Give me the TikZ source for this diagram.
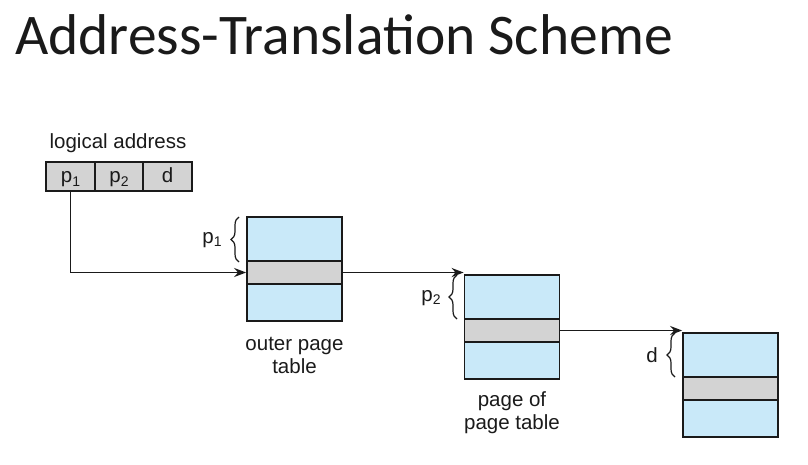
\documentclass[tikz,border=0pt]{standalone}
\usepackage{fontspec}
\setmainfont{Liberation Sans}
\newfontfamily\titlefont{Carlito}
\usetikzlibrary{arrows.meta,decorations.pathreplacing}
\definecolor{tableblue}{HTML}{C9E9F9}
\definecolor{entrygray}{HTML}{D3D3D3}
\definecolor{ink}{HTML}{1A1A1A}
\newcommand\lowidx[1]{\raisebox{-0.3ex}{\fontsize{14}{14}\selectfont #1}}
\tikzset{
  lbl/.style={font=\fontsize{20.5}{23}\selectfont, inner sep=0pt, align=center, text=ink},
  cell/.style={draw=ink, line width=1.7pt, fill=entrygray, minimum height=29pt, inner sep=0pt, lbl, text height=15pt, text depth=2pt},
  ptable/.style={draw=ink, line width=1.7pt, fill=tableblue, minimum width=95pt, minimum height=104pt, inner sep=0pt},
  pentry/.style={draw=ink, line width=1.7pt, fill=entrygray, minimum width=95pt, minimum height=23pt, inner sep=0pt},
  link/.style={draw=ink, line width=1.8pt, -{Stealth[length=12pt,width=9pt]}},
  lbrace/.style={draw=ink, line width=1.2pt, decorate, decoration={brace, amplitude=8pt}},
}
\begin{document}
\begin{tikzpicture}[x=1pt,y=-1pt]
\useasboundingbox (0,0) rectangle (808,465);

% title
\node[anchor=base west, inner sep=0pt, text=ink, font=\titlefont\fontsize{57.5}{60}\selectfont] (title) at (15,55) {Address-Translation Scheme};

% logical address
\node[cell, minimum width=49pt] (c1) at (70.5,176.5) {p\lowidx{1}};
\node[cell, minimum width=48pt] (c2) at (119,176.5) {p\lowidx{2}};
\node[cell, minimum width=49pt] (c3) at (167.5,176.5) {d};
\node[lbl] (la) at (118,143) {logical address};

% outer page table
\node[ptable] (t1) at (294.5,269) {};
\node[pentry] (b1) at (294.5,272.5) {};
\node[lbl] (t1lbl) at (294.5,355) {outer page\\table};

% page of page table
\node[ptable] (t2) at (512,327) {};
\node[pentry] (b2) at (512,330.5) {};
\node[lbl] (t2lbl) at (512,413) {page of\\page table};

% page
\node[ptable] (t3) at (730.5,385) {};
\node[pentry] (b3) at (730.5,388.5) {};

% offsets
\coordinate (k1a) at (239,262); \coordinate (k1b) at (239,217);
\coordinate (k2a) at (457,319); \coordinate (k2b) at (457,275);
\coordinate (k3a) at (675,377); \coordinate (k3b) at (675,333);
\draw[lbrace] (k1a) -- (k1b);
\draw[lbrace] (k2a) -- (k2b);
\draw[lbrace] (k3a) -- (k3b);
\node[lbl] (o1) at (212,240) {p\lowidx{1}};
\node[lbl] (o2) at (431,298) {p\lowidx{2}};
\node[lbl] (o3) at (652,355) {d};

% translation path
\draw[link] (c1.south) |- (b1.west);
\draw[link] (b1.east) -- (b1.east -| t2.west);
\draw[link] (b2.east) -- (b2.east -| t3.west);
\end{tikzpicture}
\end{document}
